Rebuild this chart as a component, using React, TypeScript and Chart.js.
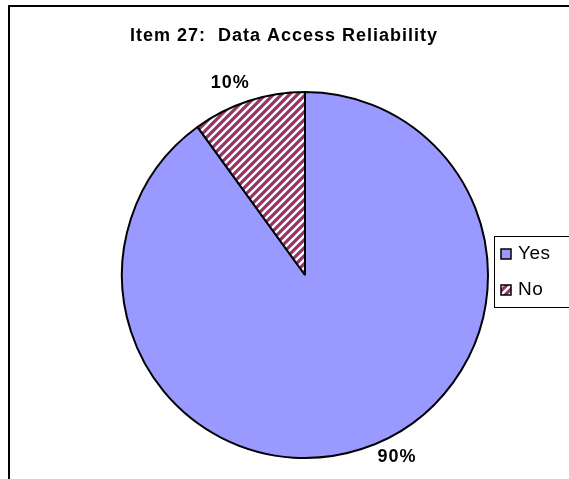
import React, { useEffect, useRef } from "react";
import { Chart, registerables } from "chart.js";

Chart.register(...registerables);

const TITLE = "Item 27:  Data Access Reliability";
const CATEGORIES = ["Yes", "No"];
const VALUES = [90, 10];
const PERCENT_LABELS = ["90%", "10%"];

const YES_COLOR = "#9999FF";
const HATCH_COLOR = "#993366";
const FONT = "'Liberation Sans', Arial, sans-serif";

// where each percentage label sits around the rim: angle in degrees, distance past the edge
const LABEL_ANGLES = [63.2, -111.3];
const LABEL_GAP = [21, 23];

function makeHatch(ctx: CanvasRenderingContext2D): CanvasPattern | string {
  const size = 8;
  const c = document.createElement("canvas");
  c.width = size;
  c.height = size;
  const g = c.getContext("2d");
  if (!g) return HATCH_COLOR;
  g.fillStyle = "#ffffff";
  g.fillRect(0, 0, size, size);
  g.strokeStyle = HATCH_COLOR;
  g.lineWidth = 3.2;
  g.lineCap = "square";
  g.beginPath();
  g.moveTo(-size, size * 2);
  g.lineTo(size * 2, -size);
  g.moveTo(-size, size);
  g.lineTo(size, -size);
  g.moveTo(0, size * 2);
  g.lineTo(size * 2, 0);
  g.stroke();
  return ctx.createPattern(c, "repeat") || HATCH_COLOR;
}

// Frame, title, slice labels and the boxed legend on the right
const decorations = {
  id: "decorations",
  afterDraw(chart: any) {
    const ctx: any = chart.ctx;
    const fills = chart.data.datasets[0].backgroundColor;
    ctx.save();

    // outer frame
    ctx.strokeStyle = "#000";
    ctx.lineWidth = 2;
    ctx.beginPath();
    ctx.moveTo(9, 490);
    ctx.lineTo(9, 6);
    ctx.lineTo(580, 6);
    ctx.stroke();

    // title
    ctx.fillStyle = "#000";
    ctx.font = `bold 18px ${FONT}`;
    ctx.letterSpacing = "1px";
    ctx.textAlign = "center";
    ctx.textBaseline = "middle";
    ctx.fillText(TITLE, 284, 36);

    // percentage labels outside each slice
    const meta = chart.getDatasetMeta(0);
    meta.data.forEach((arc: any, i: number) => {
      const { x, y, outerRadius } = arc.getProps(["x", "y", "outerRadius"], true);
      const a = (LABEL_ANGLES[i] * Math.PI) / 180;
      const r = outerRadius + LABEL_GAP[i];
      ctx.fillText(PERCENT_LABELS[i], x + Math.cos(a) * r, y + Math.sin(a) * r);
    });

    // legend box
    ctx.lineWidth = 1;
    ctx.strokeStyle = "#000";
    ctx.strokeRect(494.5, 236.5, 90, 71);
    ctx.font = `19px ${FONT}`;
    ctx.letterSpacing = "0.5px";
    ctx.textAlign = "left";
    CATEGORIES.forEach((name, i) => {
      const cy = 254 + i * 36;
      ctx.fillStyle = fills[i];
      ctx.fillRect(501, cy - 5, 10, 10);
      ctx.strokeStyle = "#000";
      ctx.lineWidth = 1.5;
      ctx.strokeRect(501, cy - 5, 10, 10);
      ctx.fillStyle = "#000";
      ctx.fillText(name, 518, cy);
    });

    ctx.restore();
  },
};

export default function App() {
  const ref = useRef<HTMLCanvasElement>(null);

  useEffect(() => {
    const canvas = ref.current;
    if (!canvas) return;
    const ctx = canvas.getContext("2d");
    if (!ctx) return;
    const hatch = makeHatch(ctx);

    const chart = new Chart(canvas, {
      type: "pie",
      data: {
        labels: CATEGORIES,
        datasets: [
          {
            data: VALUES,
            backgroundColor: [YES_COLOR, hatch] as any,
            borderColor: "#000",
            borderWidth: 2,
          },
        ],
      },
      options: {
        responsive: false,
        animation: false,
        events: [],
        layout: { padding: { left: 121, right: 80, top: 91, bottom: 20 } },
        plugins: {
          legend: { display: false },
          title: { display: false },
          tooltip: { enabled: false },
        },
      },
      plugins: [decorations],
    });

    return () => chart.destroy();
  }, []);

  return (
    <div
      style={{
        position: "fixed",
        left: 0,
        top: 0,
        width: 569,
        height: 479,
        background: "#fff",
      }}
    >
      <canvas ref={ref} width={569} height={479} style={{ display: "block" }} />
    </div>
  );
}
